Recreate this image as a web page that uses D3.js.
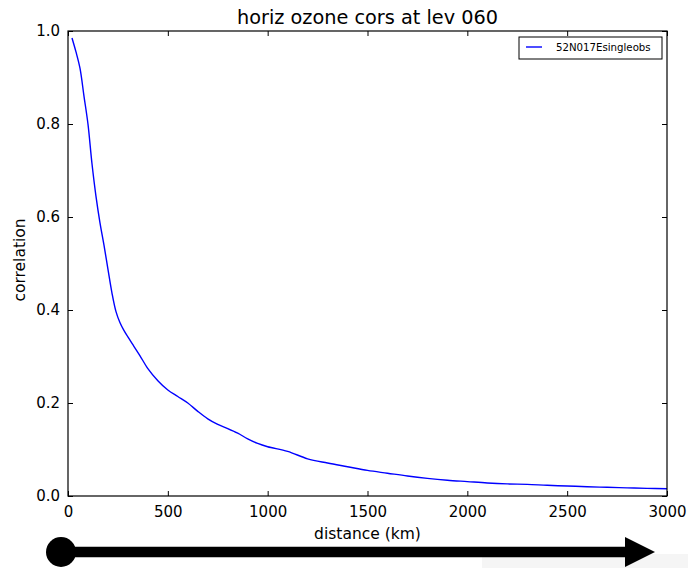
<!DOCTYPE html>
<html><head><meta charset="utf-8">
<script src="https://cdn.jsdelivr.net/npm/d3@7"></script>
<style>body{margin:0;background:#fff}svg{display:block}text{font-family:"DejaVu Sans",sans-serif;fill:#000}</style>
</head><body>
<script>
const distances = [20,40,60,80,100,120,140,160,180,200,220,240,260,280,300,330,360,400,450,500,550,600,650,700,750,800,850,900,950,1000,1100,1200,1300,1400,1500,1600,1700,1800,1900,2000,2100,2200,2300,2400,2500,2600,2700,2800,2900,3000];
const correlations = [0.985,0.955,0.92,0.86,0.80,0.715,0.645,0.588,0.54,0.488,0.437,0.397,0.373,0.356,0.342,0.322,0.302,0.274,0.248,0.228,0.214,0.200,0.182,0.166,0.154,0.145,0.135,0.123,0.113,0.106,0.096,0.080,0.071,0.063,0.055,0.049,0.043,0.038,0.034,0.031,0.028,0.026,0.025,0.023,0.0215,0.020,0.0187,0.0175,0.0165,0.0155];
const xTicks = [0,500,1000,1500,2000,2500,3000];
const yTicks = [0.0,0.2,0.4,0.6,0.8,1.0];
const seriesName = "52N017Esingleobs";
const title = "horiz ozone cors at lev 060";

const W=688,H=568;
const L=68,R=667,T=31,B=496;
const svg=d3.select("body").append("svg").attr("width",W).attr("height",H);
const x=d3.scaleLinear().domain([0,3000]).range([L,R]);
const y=d3.scaleLinear().domain([0,1]).range([B,T]);

// background artifact
svg.append("rect").attr("x",482).attr("y",554).attr("width",206).attr("height",14).attr("fill","#f5f5f5");

// line
const data=distances.map((d,i)=>[d,correlations[i]]);
svg.append("path").datum(data).attr("fill","none").attr("stroke","#0000ff").attr("stroke-width",1.4)
  .attr("d",d3.line().x(d=>x(d[0])).y(d=>y(d[1])).curve(d3.curveCatmullRom.alpha(0.5)));

// axes with inward ticks
const fmtY=d3.format(".1f");
const gx=svg.append("g").attr("transform",`translate(0,${B})`).call(d3.axisBottom(x).tickValues(xTicks).tickSize(-5).tickPadding(10).tickFormat(d3.format("d")));
const gxt=svg.append("g").attr("transform",`translate(0,${T})`).call(d3.axisTop(x).tickValues(xTicks).tickSize(-5).tickFormat(""));
const gy=svg.append("g").attr("transform",`translate(${L},0)`).call(d3.axisLeft(y).tickValues(yTicks).tickSize(-5).tickPadding(8).tickFormat(fmtY));
const gyr=svg.append("g").attr("transform",`translate(${R},0)`).call(d3.axisRight(y).tickValues(yTicks).tickSize(-5).tickFormat(""));
[gx,gxt,gy,gyr].forEach(g=>{g.select(".domain").remove();g.selectAll("line").attr("stroke","#000").attr("stroke-width",1);g.selectAll("text").style("font-size","15px").attr("font-family","DejaVu Sans");});
gx.selectAll("text").attr("dy","0.71em");
// frame
svg.append("rect").attr("x",L).attr("y",T).attr("width",R-L).attr("height",B-T).attr("fill","none").attr("stroke","#000").attr("stroke-width",1.2);

// titles
svg.append("text").attr("x",(L+R)/2).attr("y",24).attr("text-anchor","middle").style("font-size","19.3px").text(title);
svg.append("text").attr("x",(L+R)/2).attr("y",539).attr("text-anchor","middle").style("font-size","15.5px").text("distance (km)");
svg.append("text").attr("transform",`translate(25,260) rotate(-90)`).attr("text-anchor","middle").style("font-size","15.5px").text("correlation");

// legend
const lg=svg.append("g");
lg.append("rect").attr("x",519).attr("y",37).attr("width",143).attr("height",22).attr("fill","#fff").attr("stroke","#000").attr("stroke-width",1);
lg.append("line").attr("x1",526).attr("x2",542).attr("y1",47).attr("y2",47).attr("stroke","#0000ff").attr("stroke-width",1.4);
lg.append("text").attr("x",556).attr("y",51).style("font-size","10.2px").text(seriesName);

// arrow
svg.append("line").attr("x1",61).attr("x2",628).attr("y1",552).attr("y2",552).attr("stroke","#000").attr("stroke-width",10.5);
svg.append("circle").attr("cx",61).attr("cy",552).attr("r",15).attr("fill","#000");
svg.append("path").attr("d","M625,537 L655,552 L625,567 Z").attr("fill","#000");
</script>
</body></html>
